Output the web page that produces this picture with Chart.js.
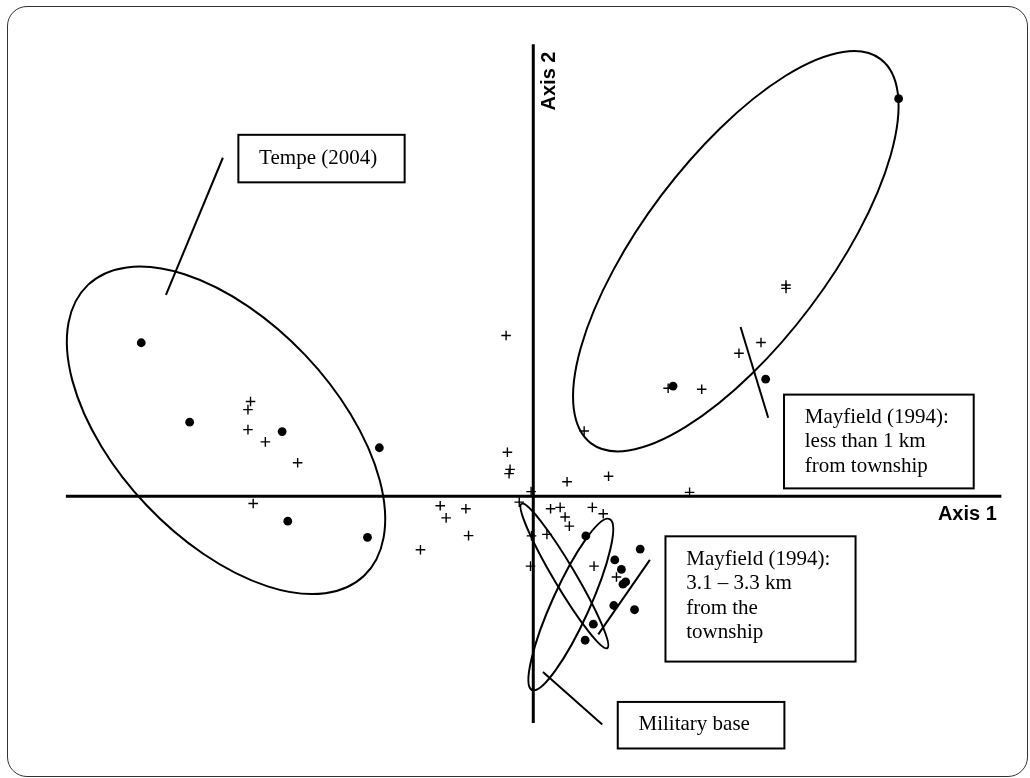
<!DOCTYPE html>
<html><head><meta charset="utf-8">
<script src="https://cdn.jsdelivr.net/npm/chart.js@4.4.1/dist/chart.umd.min.js"></script>
<style>
html,body{margin:0;padding:0;background:#fff;}
#wrap{position:relative;width:1030px;height:778px;}
#frame{position:absolute;left:7px;top:6px;width:1021px;height:771px;border:1.5px solid #333;border-radius:20px;box-sizing:border-box;pointer-events:none;}
</style></head><body>
<div id="wrap"><canvas id="c"></canvas><div id="frame"></div></div>
<script>
// Ordination scores (Axis 1, Axis 2)
const dotsAxis1 = [-3.968,-3.478,-2.542,-1.558,-2.485,-1.678, 3.698,1.415,2.352, 0.532,0.825,0.892,0.908,0.935,1.082,0.815,1.025,0.608,0.525];
const dotsAxis2 = [1.56,0.753,0.657,0.493,-0.253,-0.417, 4.04,1.12,1.19, -0.403,-0.647,-0.743,-0.893,-0.87,-0.537,-1.11,-1.153,-1.30,-1.463];
const crossAxis1 = [-2.862,-2.888,-2.888,-2.712,-2.385,-2.835,
  -0.275,-0.262,-0.235,-0.245,-0.022,
  -0.942,-0.882,-0.682,-0.655,-1.142,-0.142,
  0.342,0.762,1.582,0.515,1.365,1.705,2.082,2.305,2.558,2.558,
  0.175,0.272,0.322,0.365,0.598,0.708,0.138,-0.018,-0.028,0.615,0.842];
const crossAxis2 = [0.963,0.88,0.677,0.553,0.34,-0.073,
  1.633,0.447,0.273,0.23,0.047,
  -0.097,-0.22,-0.127,-0.40,-0.543,-0.06,
  0.147,0.203,0.04,0.663,1.097,1.087,1.453,1.563,2.147,2.113,
  -0.127,-0.113,-0.21,-0.303,-0.113,-0.177,-0.387,-0.403,-0.71,-0.71,-0.82];

// Group ellipses: centre, semi-axes, rotation (degrees)
const ellipseCx = [-3.11, 2.05, 0.315, 0.38];
const ellipseCy = [0.67, 2.49, -0.81, -1.10];
const ellipseA = [2.03, 2.435, 0.85, 0.95];
const ellipseB = [1.11, 0.946, 0.11, 0.19];
const ellipseAngle = [-46.5, 53, -59.3, 65.6];

// Axis extents
const axis1Range = [-4.731, 4.738];
const axis2Range = [-2.303, 4.593];
const axisTitles = ['Axis 1', 'Axis 2'];

// Annotation labels
const labelTexts = [
  ['Tempe (2004)'],
  ['Mayfield (1994):', 'less than 1 km', 'from township'],
  ['Mayfield (1994):', '3.1 \u2013 3.3 km', 'from the', 'township'],
  ['Military base']
];

// Layout of annotations (in axis units)
const boxes = [
  {x1:-2.985, y1:3.673, x2:-1.302, y2:3.19, tx:-2.775, ty:[3.43]},
  {x1:2.538, y1:1.033, x2:4.458, y2:0.08, tx:2.748, ty:[0.797,0.553,0.307]},
  {x1:1.338, y1:-0.407, x2:3.262, y2:-1.68, tx:1.548, ty:[-0.647,-0.887,-1.137,-1.38]},
  {x1:0.855, y1:-2.09, x2:2.542, y2:-2.563, tx:1.065, ty:[-2.32]}
];
const leaders = [
  [-3.142, 3.44, -3.718, 2.047],
  [2.098, 1.72, 2.378, 0.797],
  [1.18, -0.647, 0.658, -1.403],
  [0.098, -1.787, 0.698, -2.32]
];

const overlay = {
  id: 'overlay',
  beforeDatasetsDraw(chart) {
    const {ctx, scales: {x, y}} = chart;
    ctx.save();
    ctx.strokeStyle = '#000';
    ctx.lineWidth = 2;
    for (let i = 0; i < ellipseCx.length; i++) {
      const cx = x.getPixelForValue(ellipseCx[i]), cy = y.getPixelForValue(ellipseCy[i]);
      const rx = Math.abs(x.getPixelForValue(ellipseCx[i] + ellipseA[i]) - cx);
      const ry = Math.abs(y.getPixelForValue(ellipseCy[i] + ellipseB[i]) - cy);
      ctx.beginPath();
      ctx.ellipse(cx, cy, rx, ry, -ellipseAngle[i] * Math.PI / 180, 0, 2 * Math.PI);
      ctx.stroke();
    }
    ctx.restore();
  },
  afterDatasetsDraw(chart) {
    const {ctx, scales: {x, y}} = chart;
    ctx.save();
    ctx.strokeStyle = '#000';
    ctx.lineWidth = 2;
    leaders.forEach(l => {
      ctx.beginPath();
      ctx.moveTo(x.getPixelForValue(l[0]), y.getPixelForValue(l[1]));
      ctx.lineTo(x.getPixelForValue(l[2]), y.getPixelForValue(l[3]));
      ctx.stroke();
    });
    ctx.font = '21px "Liberation Serif", "Times New Roman", serif';
    ctx.textBaseline = 'middle';
    ctx.textAlign = 'left';
    boxes.forEach((b, i) => {
      const px1 = x.getPixelForValue(b.x1), py1 = y.getPixelForValue(b.y1);
      const px2 = x.getPixelForValue(b.x2), py2 = y.getPixelForValue(b.y2);
      ctx.fillStyle = '#fff';
      ctx.fillRect(px1, py1, px2 - px1, py2 - py1);
      ctx.strokeRect(px1, py1, px2 - px1, py2 - py1);
      ctx.fillStyle = '#000';
      labelTexts[i].forEach((t, j) => {
        ctx.fillText(t, x.getPixelForValue(b.tx), y.getPixelForValue(b.ty[j]));
      });
    });
    ctx.font = 'bold 20px "Liberation Sans", Arial, sans-serif';
    ctx.fillStyle = '#000';
    ctx.textAlign = 'right';
    ctx.fillText(axisTitles[0], x.getPixelForValue(4.692), y.getPixelForValue(-0.187));
    ctx.save();
    ctx.translate(x.getPixelForValue(0.165), y.getPixelForValue(4.22));
    ctx.rotate(-Math.PI / 2);
    ctx.textAlign = 'center';
    ctx.fillText(axisTitles[1], 0, 0);
    ctx.restore();
    ctx.restore();
  }
};

const dots = dotsAxis1.map((v, i) => ({x: v, y: dotsAxis2[i]}));
const crosses = crossAxis1.map((v, i) => ({x: v, y: crossAxis2[i]}));

new Chart(document.getElementById('c'), {
  type: 'scatter',
  data: {
    datasets: [
      {type: 'line', data: [{x: axis1Range[0], y: 0}, {x: axis1Range[1], y: 0}], borderColor: '#000', borderWidth: 3, pointRadius: 0, fill: false},
      {type: 'line', data: [{x: 0, y: axis2Range[0]}, {x: 0, y: axis2Range[1]}], borderColor: '#000', borderWidth: 3, pointRadius: 0, fill: false},
      {data: dots, pointStyle: 'circle', pointRadius: 4.4, backgroundColor: '#000', borderColor: '#000', borderWidth: 0},
      {data: crosses, pointStyle: 'cross', pointRadius: 4.8, borderColor: '#000', borderWidth: 1.4}
    ]
  },
  options: {
    responsive: true,
    maintainAspectRatio: false,
    animation: false,
    events: [],
    layout: {padding: 0},
    plugins: {legend: {display: false}, tooltip: {enabled: false}},
    scales: {
      x: {type: 'linear', min: -5.335, max: 4.965, display: false},
      y: {type: 'linear', min: -2.80, max: 4.98, display: false}
    }
  },
  plugins: [overlay]
});
</script>
</body></html>
